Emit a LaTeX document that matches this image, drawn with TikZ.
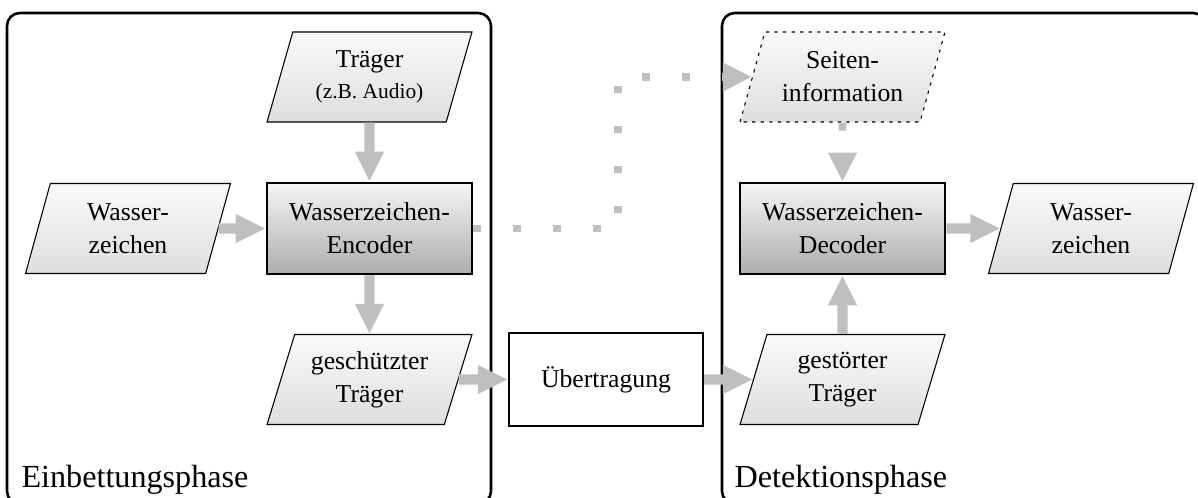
\documentclass[tikz,border=0pt]{standalone}
\usepackage{fontspec}
\setmainfont{Liberation Serif}
\usetikzlibrary{shapes.geometric,arrows.meta}

\begin{document}
\begin{tikzpicture}[x=0.4665pt,y=-0.4665pt,
  every node/.style={font=\fontsize{12}{15.4}\selectfont,align=center},
  daten/.style={trapezium,trapezium left angle=65.5,trapezium right angle=114.5,
    trapezium stretches body,draw,line width=0.5pt,top color=black!2,bottom color=black!13,
    minimum width=95.6pt,minimum height=42pt,inner xsep=0pt,inner ysep=1pt},
  modul/.style={draw,line width=1.2pt,top color=black!4,bottom color=black!32,
    minimum width=95.6pt,minimum height=42.5pt},
  kanal/.style={draw,line width=1pt,fill=white,minimum width=90.5pt,minimum height=43.4pt},
  phase/.style={draw,line width=1.2pt,rounded corners=6pt},
  pfeil/.style={draw=black!25,line width=4.7pt,-{Triangle[width=12.5pt,length=14pt]}},
  dotpfeil/.style={draw=black!25,line width=3.6pt,dash pattern=on 3.73pt off 14.93pt,
    -{Triangle[width=12.5pt,length=13.5pt]}}]
 \clip (0,0) rectangle (1198,498);
 % Phasen
 \draw[phase] (7,13) rectangle (491,504);
 \draw[phase] (722,13) rectangle (1206,504);
 \node[anchor=base west,font=\fontsize{15}{18}\selectfont] (einbettung) at (14,488) {Einbettungsphase};
 \node[anchor=base west,font=\fontsize{15}{18}\selectfont] (detektion) at (727,488) {Detektionsphase};
 % Einbettung
 \node[daten] (traeger) at (369.5,77) {Träger\\[-1pt]{\fontsize{10}{12}\selectfont(z.B. Audio)}};
 \node[modul] (encoder) at (369.5,228.5) {Wasserzeichen-\\Encoder};
 \node[daten] (wz) at (128,228.5) {Wasser-\\zeichen};
 \node[daten] (geschuetzt) at (369.5,379.5) {geschützter\\Träger};
 \node[kanal] (uebertragung) at (606,379.5) {Übertragung};
 % Detektion
 \node[daten,dash pattern=on 1.5pt off 2.5pt] (seiten) at (842.5,77) {Seiten-\\information};
 \node[modul] (decoder) at (842.5,228.5) {Wasserzeichen-\\Decoder};
 \node[daten] (gestoert) at (842.5,379.5) {gestörter\\Träger};
 \node[daten] (wzr) at (1091,228.5) {Wasser-\\zeichen};
 % Pfeile
 \draw[pfeil] (traeger) -- (encoder);
 \draw[pfeil] (wz) -- (encoder);
 \draw[pfeil] (encoder) -- (geschuetzt);
 \draw[pfeil] (geschuetzt) -- (uebertragung);
 \draw[pfeil] (uebertragung) -- (gestoert);
 \draw[pfeil] (gestoert) -- (decoder);
 \draw[pfeil] (decoder) -- (wzr);
 \draw[dotpfeil] (encoder.east) -- ++(145,0) |- (seiten.west);
 \draw[dotpfeil] (seiten) -- (decoder);
\end{tikzpicture}
\end{document}
